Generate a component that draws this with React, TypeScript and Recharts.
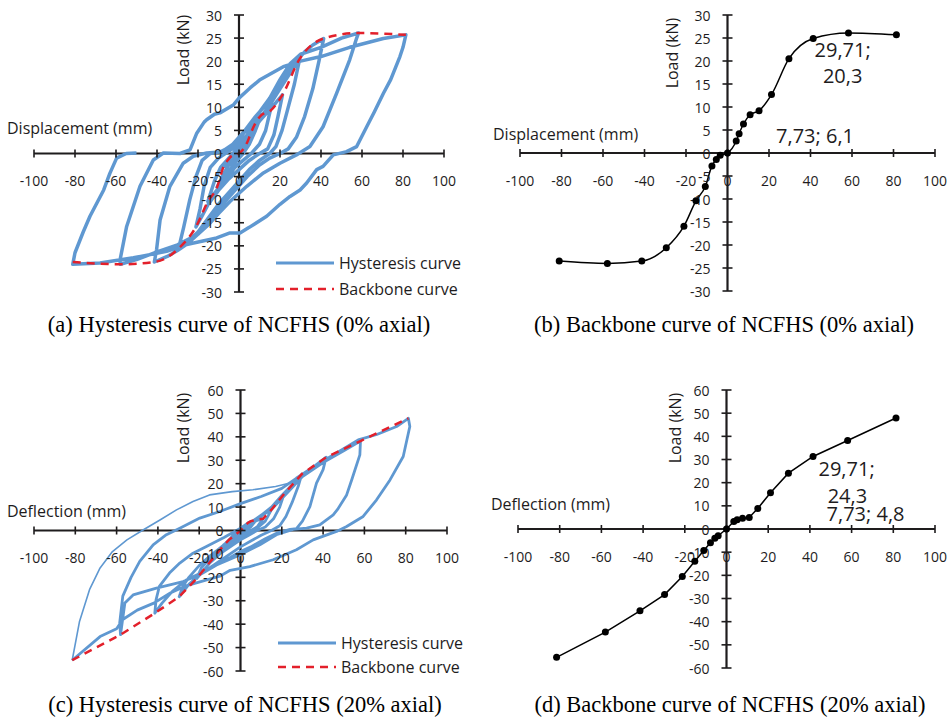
import { LineChart, Line, XAxis, YAxis, ReferenceLine, ReferenceDot } from 'recharts';

const FONT = '"Open Sans", sans-serif';
const BLUE = '#5f98d1';
const RED = '#e3202b';
const INK = '#1e1c1d';

// axis ticks
const xTicks = [-100, -80, -60, -40, -20, 0, 20, 40, 60, 80, 100];
const yTicks0 = [-30, -25, -20, -15, -10, -5, 0, 5, 10, 15, 20, 25, 30];
const yTicks20 = [-60, -50, -40, -30, -20, -10, 0, 10, 20, 30, 40, 50, 60];

// backbone points read from (b) and (d), [displacement mm, load kN]
const backbone0 = [
  [-81.1, -23.5], [-57.9, -24.0], [-41.3, -23.5], [-29.5, -20.6], [-21.0, -15.9], [-15.2, -10.4],
  [-10.7, -7.3], [-7.5, -2.8], [-5.4, -1.4], [-3.5, -0.5], [0, 0], [4.2, 2.6], [5.6, 4.2],
  [7.7, 6.3], [10.9, 8.3], [15.2, 9.2], [21.2, 12.7], [29.6, 20.5], [41.3, 24.9], [58.3, 26.1], [81.4, 25.7],
];
const backbone20 = [
  [-81.5, -55.4], [-58.1, -44.5], [-41.5, -35.3], [-29.7, -28.3], [-21.2, -20.5], [-15.2, -13.9],
  [-10.9, -9.3], [-7.7, -5.9], [-5.6, -4.0], [-4.0, -2.9], [0, 0], [3.5, 3.2], [5.1, 4.0],
  [7.7, 4.6], [10.9, 5.0], [15.0, 8.9], [21.1, 15.6], [29.7, 24.1], [41.5, 31.3], [58.1, 38.2], [81.3, 47.9],
];

// hysteresis loops, 0% axial
const hyst0Small = [
  [0, 0], [2, 1.5], [4.2, 2.6], [2, 0.5], [0, -0.5], [-3.5, -0.5], [-1, 0.5], [2.5, 2.5], [5.6, 4.2],
  [3, 1.5], [0, -0.5], [-2.5, -1.2], [-5.4, -1.4], [-2.5, 0], [1, 1.5], [4.5, 4.2], [7.7, 6.3], [5, 3],
  [2, 0.5], [-2, -1.5], [-5, -2.5], [-7.5, -2.8],
];
const hyst0C11 = [
  [-7.5, -2.8], [-4, -1], [0, 1], [4, 3.5], [8, 7], [10.9, 8.3], [8, 5], [5, 2], [2, 0], [-2, -2],
  [-6, -4.5], [-10.7, -7.3],
];
const hyst0C15 = [
  [-10.7, -7.3], [-7, -4], [-3, -1], [0, 1], [4, 4], [7, 6.8], [10, 8.3], [12.5, 8.7], [15.2, 9.2],
  [13, 5], [10, 2], [6, 0], [2, -1.5], [-2, -3], [-6, -5.5], [-10, -7.5], [-15.2, -10.4],
];
const hyst0C21 = [
  [-15.2, -10.4], [-12, -6], [-9, -3], [-5, -1], [0, 1.5], [5, 4], [10, 7], [15, 9.5], [18, 11],
  [21.2, 12.7], [19, 8], [17, 4], [14, 1], [10, 0], [5, -1.5], [0, -3.5], [-5, -5.5], [-10, -8],
  [-15, -11], [-18, -13.5], [-21, -15.9],
];
const hyst0C30 = [
  [-21, -15.9], [-19, -12], [-17, -7], [-14, -3], [-10, -1], [-5, 0.5], [0, 2], [5, 4.5], [10, 7.5],
  [15, 10.5], [20, 14], [25, 17.5], [29.6, 20.5], [27, 15], [24, 10], [21, 5], [18, 1.5], [15, 0],
  [10, -1.5], [5, -3.5], [0, -6], [-5, -8.5], [-10, -11], [-15, -14], [-20, -17], [-25, -19], [-29.5, -20.6],
];
const hyst0C41 = [
  [-29.5, -20.6], [-27, -16], [-24, -10], [-21, -5], [-18, -1.5], [-14, 0], [-8, 0.5], [-3, 2], [2, 4.5],
  [8, 8], [14, 11], [20, 15], [26, 19], [32, 22], [36, 23.5], [41.3, 24.9], [39, 20], [36, 14], [32, 8],
  [28, 3.5], [24, 1], [20, 0], [15, -1], [10, -2.5], [4, -5], [0, -7], [-5, -9.5], [-10, -12], [-15, -15],
  [-20, -17.5], [-25, -19.5], [-30, -21], [-35, -22.3], [-41.3, -23.5],
];
const hyst0C58 = [
  [-41.3, -23.5], [-40.2, -20.8], [-38.5, -14.4], [-33.7, -7.1], [-27.2, -2.1], [-22.3, -0.6],
  [-15.8, 0.1], [-9.3, 0.3], [-4, 1.5], [0, 3], [5, 6], [10, 9], [15, 12], [20, 16], [25, 19.5],
  [30, 21.5], [40, 23], [50, 25], [58.3, 26.1], [57.4, 25], [54, 20.3], [47.6, 13], [41, 5.8],
  [34.6, 1.5], [28, -0.3], [20, -2.1], [11.9, -4.2], [3.8, -7.1], [-4.4, -10.4], [-10, -13],
  [-15, -15.5], [-20, -17.5], [-30, -19.8], [-40, -21.3], [-50, -23], [-57.9, -24],
];
const hyst0C81 = [
  [-57.9, -24], [-58, -23], [-54.8, -15.8], [-48.3, -7.1], [-41.8, -1.4], [-36.9, 0.1], [-28.8, 0],
  [-23.9, 0.8], [-20.6, 4.4], [-17, 6.8], [-15.8, 7.3], [-12, 8.5], [-9.3, 8.8], [-2.8, 10.5], [0, 12],
  [5.4, 14.2], [10, 15.9], [21.6, 18.8], [30, 20], [40, 21], [54, 23], [70.4, 24.9], [81.4, 25.7],
  [80, 23], [78.5, 21], [74, 16], [70.4, 13], [66, 9], [62.3, 5.8], [57.4, 1.5], [52.5, 0.4], [46, -0.3],
  [41, -2.8], [37.9, -3.5], [33, -6.4], [29.8, -7.9], [24.9, -9.3], [20, -11], [13.5, -13.6], [5, -16],
  [0.5, -17.2], [-4.4, -17.2], [-10.9, -18.3], [-25.5, -19.7], [-35.3, -21.2], [-51.5, -22.6],
  [-67.8, -23.7], [-81.1, -24],
];
const hyst0Last = [
  [-81.1, -24], [-80, -21.5], [-76, -17], [-72.7, -13.6], [-66, -7.9], [-63, -4.3], [-59.7, -1],
  [-55, 0], [-50, 0.1],
];

// hysteresis loops, 20% axial
const hyst20Small = [
  [0, 0], [2, 1.5], [3.5, 3.2], [1.5, 0.5], [0, -1], [-4, -2.9], [-2, -1], [1, 1.5], [5.1, 4], [3, 1],
  [0, -1.5], [-5.6, -4], [-3, -1.5], [1, 1.5], [4, 3.5], [7.7, 4.6], [5, 1.5], [2, -0.5], [-2, -2.5],
  [-5, -4], [-7.7, -5.9],
];
const hyst20C11 = [
  [-7.7, -5.9], [-4, -2.5], [0, 0], [4, 2.5], [8, 4.3], [10.9, 5], [8, 1.5], [4, -0.5], [0, -2.5],
  [-5, -5], [-10.9, -9.3],
];
const hyst20C15 = [
  [-10.9, -9.3], [-7, -5.5], [-3, -2], [0, 0.5], [5, 3.5], [10, 6.5], [15, 8.9], [12, 4], [8, 1],
  [4, -1], [0, -3], [-5, -6], [-10, -9.5], [-15.2, -13.9],
];
const hyst20C21 = [
  [-15.2, -13.9], [-12, -10], [-8, -6], [-4, -3], [0, 0], [5, 3.5], [10, 6.5], [15, 9.5], [18, 12],
  [21.1, 15.6], [19, 10], [16, 5], [12, 1.5], [8, 0], [4, -2], [0, -4], [-5, -7], [-10, -10],
  [-15, -14], [-21.2, -20.5],
];
const hyst20C30 = [
  [-21.2, -20.5], [-19, -16], [-15, -12], [-10, -8], [-5, -4.5], [0, -1], [5, 2.5], [10, 6], [15, 10],
  [20, 15], [25, 19.5], [29.7, 24.1], [28, 19], [25, 12], [22, 6], [19, 2], [15, 0], [10, -2], [5, -4.5],
  [0, -7], [-5, -10], [-10, -13], [-15, -16], [-20, -19], [-25, -23], [-29.7, -28.3],
];
const hyst20C41 = [
  [-29.7, -28.3], [-28, -24], [-25, -20], [-20, -15], [-15, -11], [-10, -7.5], [-5, -4], [0, -0.5],
  [5, 3], [10, 6.5], [15, 10], [20, 14], [25, 19], [30, 23.5], [35, 27], [41.5, 31.3], [40, 26],
  [36.8, 20.2], [33.6, 10.2], [30, 4], [27.1, 0.8], [24, 0.5], [18, -1], [12, -3.5], [5, -7], [0, -9],
  [-5, -11.5], [-12, -14.5], [-20, -18.5], [-26, -21], [-33, -26], [-38, -31], [-41.5, -35.3],
];
const hyst20C58 = [
  [-41.5, -35.3], [-40.9, -29.6], [-39.3, -23.9], [-34.4, -18.2], [-29.4, -13.9], [-23, -9.7],
  [-16.5, -6.8], [-8, -3], [0, 1], [8, 5], [15, 9], [22, 15.5], [30, 23], [40, 29], [50, 34],
  [58.1, 38.2], [57.8, 32.3], [54, 22], [51.4, 15.2], [47, 9], [44.9, 6.7], [38.4, 2.4], [32, 1],
  [25.5, 0.5], [17.4, -1.8], [9.4, -6.1], [-0.3, -10.4], [-11.6, -14.7], [-19.7, -18.9],
  [-27.8, -21.8], [-40.7, -24.6], [-52, -27.5], [-56, -31], [-58.1, -44.5],
];
const hyst20C81 = [
  [-58.1, -44.5], [-58.5, -39.5], [-57, -28], [-53, -20], [-48.8, -13.2], [-42.3, -6.1], [-35.9, -1.8],
  [-29.4, 1], [-19.7, 5.3], [-10, 8.1], [0, 11.5], [10, 14.5], [20, 18], [27, 22.3], [36.8, 28],
  [44.9, 32.3], [57, 38.7], [66, 41], [75.6, 44.4], [81.3, 47.9], [82, 44.4], [78.8, 31.6],
  [72.4, 21.6], [65.9, 13.1], [59.4, 6], [51.4, 1.7], [46.5, -0.4], [35.2, -4], [27.1, -8.2],
  [15.8, -12.5], [4.5, -15.4], [-5, -17], [-10, -19.5], [-18, -21.5], [-26, -23.5], [-34, -26.7],
  [-42, -31], [-50, -34], [-57, -38], [-60, -42], [-68, -45.3], [-81.5, -55.4],
];
const hyst20Last = [
  [-81.5, -55.4], [-78, -39], [-73, -25], [-68, -16], [-62, -9], [-55, -4], [-47, 0.3], [-39, 4.5],
  [-31, 8.8], [-23, 12.4], [-15, 15.2], [-4, 16.6], [6, 17.4], [17, 18.8], [25, 20.5],
];

const pts = (arr: number[][]) => arr.map(([x, y]) => ({ x, y }));

const hyst0 = pts([
  ...hyst0Small, ...hyst0C11, ...hyst0C15, ...hyst0C21, ...hyst0C30,
  ...hyst0C41, ...hyst0C58, ...hyst0C81, ...hyst0Last,
]);
const hyst20 = pts([
  ...hyst20Small, ...hyst20C11, ...hyst20C15, ...hyst20C21, ...hyst20C30,
  ...hyst20C41, ...hyst20C58, ...hyst20C81,
]);
const hyst20Tail = pts(hyst20Last);

// cross-style axes through the origin, drawn with reference elements
function crossAxes(yTicks: number[], title: string, titleDy: number, loadDx: number, loadDy: number) {
  const yMax = yTicks[yTicks.length - 1];
  const els: any[] = [
    <ReferenceLine key="axx" y={0} stroke={INK} strokeWidth={2.2} />,
    <ReferenceLine key="axy" x={0} stroke={INK} strokeWidth={2.2} />,
  ];
  xTicks.forEach((v) =>
    els.push(
      <ReferenceDot key={'xt' + v} x={v} y={0} r={1} shape={(p: any) => (
        <g>
          <line x1={p.cx} x2={p.cx} y1={p.cy - 4} y2={p.cy + 4} stroke={INK} strokeWidth={1.6} />
          <text x={p.cx} y={p.cy + 27} textAnchor="middle" dominantBaseline="central"
            fontFamily={FONT} fontSize={14} fill={INK}>{v}</text>
        </g>
      )} />
    )
  );
  yTicks.forEach((v) =>
    els.push(
      <ReferenceDot key={'yt' + v} x={0} y={v} r={1} shape={(p: any) => (
        <g>
          <line x1={p.cx - 5} x2={p.cx + 5} y1={p.cy} y2={p.cy} stroke={INK} strokeWidth={1.6} />
          <text x={p.cx - 17} y={p.cy} textAnchor="end" dominantBaseline="central"
            fontFamily={FONT} fontSize={14} fill={INK}>{v}</text>
        </g>
      )} />
    )
  );
  els.push(
    <ReferenceDot key="xtitle" x={-100} y={0} r={1} shape={(p: any) => (
      <text x={p.cx - 27} y={p.cy + titleDy} dominantBaseline="central"
        fontFamily={FONT} fontSize={16} fill={INK}>{title}</text>
    )} />
  );
  els.push(
    <ReferenceDot key="ytitle" x={0} y={yMax} r={1} shape={(p: any) => (
      <text x={p.cx + loadDx} y={p.cy + loadDy} textAnchor="middle" dominantBaseline="central"
        transform={`rotate(-90 ${p.cx + loadDx} ${p.cy + loadDy})`}
        fontFamily={FONT} fontSize={16} fill={INK}>Load (kN)</text>
    )} />
  );
  return els;
}

function note(key: string, x: number, y: number, lines: string[]) {
  return (
    <ReferenceDot key={key} x={x} y={y} r={1} shape={(p: any) => (
      <text x={p.cx} y={p.cy} textAnchor="middle" fontFamily={FONT} fontSize={20} fill={INK}>
        {lines.map((t, i) => (
          <tspan key={i} x={p.cx} dy={i === 0 ? 0 : 26} dominantBaseline="central">{t}</tspan>
        ))}
      </text>
    )} />
  );
}

function Legend2({ left, top, rowH }: { left: number; top: number; rowH: number }) {
  const row = (dash: boolean, color: string, label: string) => (
    <div style={{ display: 'flex', alignItems: 'center', height: rowH }}>
      <svg width={58} height={6}>
        <line x1={0} x2={58} y1={3} y2={3} stroke={color} strokeWidth={dash ? 2.5 : 3}
          strokeDasharray={dash ? '8 6' : undefined} />
      </svg>
      <span style={{ marginLeft: 5, fontFamily: FONT, fontSize: 16, color: INK }}>{label}</span>
    </div>
  );
  return (
    <div style={{ position: 'absolute', left, top }}>
      {row(false, BLUE, 'Hysteresis curve')}
      {row(true, RED, 'Backbone curve')}
    </div>
  );
}

const caption = (text: string, cx: number, cy: number) => (
  <div style={{
    position: 'absolute', left: cx, top: cy, transform: 'translate(-50%, -50%)', whiteSpace: 'nowrap',
    fontFamily: '"Liberation Serif", "Times New Roman", serif', fontSize: 22.5, color: '#000',
  }}>{text}</div>
);

export default function App() {
  return (
    <div style={{ position: 'absolute', left: 0, top: 0, width: 952, height: 720, background: '#fff' }}>
      <div style={{ position: 'absolute', left: 0, top: 0 }}>
        <LineChart width={476} height={310} margin={{ top: 15, right: 32, bottom: 18, left: 34 }}>
          <XAxis type="number" dataKey="x" domain={[-100, 100]} hide allowDataOverflow />
          <YAxis type="number" domain={[-30, 30]} hide allowDataOverflow />
          {crossAxes(yTicks0, 'Displacement (mm)', -26, -56, 35)}
          <Line data={hyst0} dataKey="y" type="linear" stroke={BLUE} strokeWidth={3.5}
            strokeLinejoin="round" dot={false} isAnimationActive={false} />
          <Line data={pts(backbone0)} dataKey="y" type="monotone" stroke={RED} strokeWidth={2.5}
            strokeDasharray="8 6" dot={false} isAnimationActive={false} />
        </LineChart>
        <Legend2 left={276} top={250} rowH={26} />
      </div>

      <div style={{ position: 'absolute', left: 476, top: 0 }}>
        <LineChart width={476} height={310} margin={{ top: 15, right: 17, bottom: 19, left: 44 }}>
          <XAxis type="number" dataKey="x" domain={[-100, 100]} hide allowDataOverflow />
          <YAxis type="number" domain={[-30, 30]} hide allowDataOverflow />
          {crossAxes(yTicks0, 'Displacement (mm)', -19, -56, 38)}
          <Line data={pts(backbone0)} dataKey="y" type="monotone" stroke="#000" strokeWidth={1.5}
            dot={{ r: 3.5, fill: '#000', stroke: '#000', strokeWidth: 0 }} isAnimationActive={false} />
          {note('n1', 55.5, 22.5, ['29,71;', '20,3'])}
          {note('n2', 42.2, 3.9, ['7,73; 6,1'])}
        </LineChart>
      </div>

      <div style={{ position: 'absolute', left: 0, top: 355 }}>
        <LineChart width={476} height={330} margin={{ top: 35, right: 29, bottom: 14, left: 34 }}>
          <XAxis type="number" dataKey="x" domain={[-100, 100]} hide allowDataOverflow />
          <YAxis type="number" domain={[-60, 60]} hide allowDataOverflow />
          {crossAxes(yTicks20, 'Deflection (mm)', -20, -58, 38)}
          <Line data={hyst20} dataKey="y" type="linear" stroke={BLUE} strokeWidth={2.8}
            strokeLinejoin="round" dot={false} isAnimationActive={false} />
          <Line data={hyst20Tail} dataKey="y" type="linear" stroke={BLUE} strokeWidth={1.6}
            strokeLinejoin="round" dot={false} isAnimationActive={false} />
          <Line data={pts(backbone20)} dataKey="y" type="linear" stroke={RED} strokeWidth={2.5}
            strokeDasharray="8 6" dot={false} isAnimationActive={false} />
        </LineChart>
        <Legend2 left={278} top={276} rowH={24} />
      </div>

      <div style={{ position: 'absolute', left: 476, top: 355 }}>
        <LineChart width={476} height={330} margin={{ top: 35, right: 17, bottom: 17, left: 42 }}>
          <XAxis type="number" dataKey="x" domain={[-100, 100]} hide allowDataOverflow />
          <YAxis type="number" domain={[-60, 60]} hide allowDataOverflow />
          {crossAxes(yTicks20, 'Deflection (mm)', -25, -52, 38)}
          <Line data={pts(backbone20)} dataKey="y" type="linear" stroke="#000" strokeWidth={1.5}
            dot={{ r: 3.5, fill: '#000', stroke: '#000', strokeWidth: 0 }} isAnimationActive={false} />
          {note('n3', 57.6, 26.1, ['29,71;'])}
          {note('n4', 58.0, 14.6, ['24,3'])}
          {note('n5', 66.7, 6.8, ['7,73; 4,8'])}
        </LineChart>
      </div>

      {caption('(a) Hysteresis curve of NCFHS (0% axial)', 239, 325)}
      {caption('(b) Backbone curve of NCFHS (0% axial)', 724, 325)}
      {caption('(c) Hysteresis curve of NCFHS (20% axial)', 245, 705)}
      {caption('(d) Backbone curve of NCFHS (20% axial)', 730, 705)}
    </div>
  );
}
